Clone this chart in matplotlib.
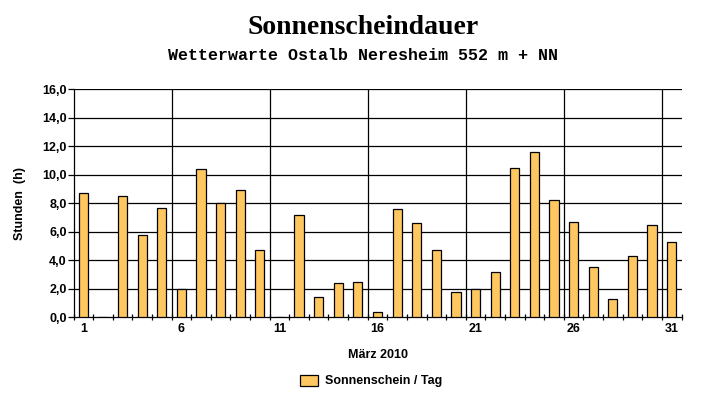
import matplotlib
matplotlib.use("Agg")
import matplotlib.pyplot as plt
import numpy as np

# Sonnenscheindauer März 2010, Stunden pro Tag
days = list(range(1, 32))
hours = [8.7, 0.0, 8.5, 5.8, 7.7, 2.0, 10.4, 8.0, 8.9, 4.7,
         0.0, 7.2, 1.4, 2.4, 2.5, 0.4, 7.6, 6.6, 4.7, 1.8,
         2.0, 3.2, 10.5, 11.6, 8.2, 6.7, 3.5, 1.3, 4.3, 6.5,
         5.3]
day_labels = [1, 6, 11, 16, 21, 26, 31]
y_ticks = [0, 2, 4, 6, 8, 10, 12, 14, 16]

my_dpi = 100
fig = plt.figure(figsize=(727/my_dpi, 404/my_dpi), dpi=my_dpi)
ax = fig.add_axes([73.5/727, 1 - 317.3/404, 608/727, 228/404])

sans = "Liberation Sans"

bars = ax.bar(days, hours, width=0.47, color="#FFC75F", edgecolor="black",
              linewidth=0.9, zorder=3, label="Sonnenschein / Tag")

# gitter
for y in y_ticks[1:]:
    ax.axhline(y, color="black", lw=0.9, zorder=1)
for d in day_labels[1:]:
    ax.axvline(d - 0.5, color="black", lw=0.9, zorder=1)

ax.set_xlim(0.5, 31.5)
ax.set_ylim(0, 16)
for s in ["top", "right"]:
    ax.spines[s].set_visible(False)
ax.spines["left"].set_linewidth(0.9)
ax.spines["bottom"].set_linewidth(0.9)

ax.set_xticks(day_labels)
ax.set_xticklabels([str(d) for d in day_labels], fontfamily=sans,
                   fontweight="bold", fontsize=9)
ax.set_xticks(np.arange(0.5, 32, 1), minor=True)
ax.tick_params(axis="x", which="major", length=0, pad=4)
ax.tick_params(axis="x", which="minor", length=4, width=0.9, direction="inout")
ax.set_yticks(y_ticks)
ax.set_yticklabels([f"{v:.1f}".replace(".", ",") for v in y_ticks],
                   fontfamily=sans, fontweight="bold", fontsize=9)
ax.tick_params(axis="y", length=4, width=0.9, pad=1)

fig.text(0.5, 1 - 27/404, "Sonnenscheindauer", ha="center", va="center",
         fontfamily="Liberation Serif", fontweight="bold", fontsize=20)
fig.text(0.5, 1 - 55/404, "Wetterwarte Ostalb Neresheim 552 m + NN",
         ha="center", va="center", fontfamily="Liberation Mono",
         fontweight="bold", fontsize=12)
fig.text(377.5/727, 1 - 355/404, "März 2010", ha="center", va="center",
         fontfamily=sans, fontweight="bold", fontsize=9)
fig.text(20/727, 1 - 203/404, "Stunden  (h)", ha="center", va="center",
         rotation=90, fontfamily=sans, fontweight="bold", fontsize=9)

fig.legend(handles=[bars], loc="center", bbox_to_anchor=(371/727, 1 - 381/404),
           frameon=False, prop={"family": sans, "weight": "bold", "size": 9},
           handlelength=1.45, handleheight=1.0, handletextpad=0.5)

fig.savefig("out.png", dpi=my_dpi)
